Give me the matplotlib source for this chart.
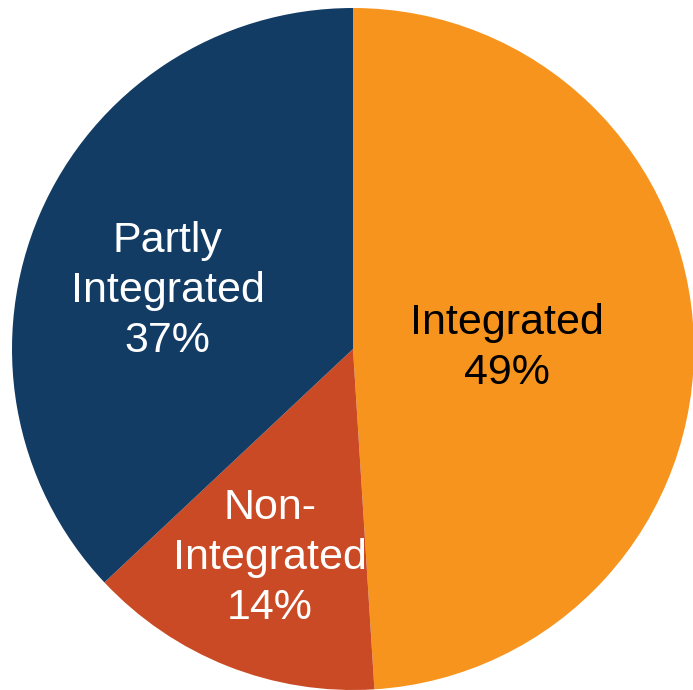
import numpy as np
import matplotlib.pyplot as plt

plt.rcParams['font.family'] = ['Liberation Sans', 'DejaVu Sans']

# data
labels = ['Integrated', 'Non-\nIntegrated', 'Partly\nIntegrated']
shares = [49, 14, 37]
colors = ['#F7941D', '#C94A24', '#133C65']
text_colors = ['black', 'white', 'white']
label_dist = [0.45, 0.66, 0.57]
label_shift = [-1.5, 0, 6]  # degrees

fig = plt.figure(figsize=(6.93, 6.90), dpi=100)
ax = fig.add_axes([0, 0, 1, 1])

wedges, _ = ax.pie(shares, colors=colors, startangle=90, counterclock=False,
                   radius=1, wedgeprops=dict(linewidth=0))

for w, lab, pct, tc, d, sh in zip(wedges, labels, shares, text_colors, label_dist, label_shift):
    ang = np.deg2rad((w.theta1 + w.theta2) / 2 + sh)
    ax.text(d * np.cos(ang), d * np.sin(ang), f'{lab}\n{pct}%',
            ha='center', va='center', fontsize=31, color=tc, linespacing=1.32)

# pixel layout: center (353, 349), radius 341
r = 341.0
ax.set_xlim(-353 / r, (693 - 353) / r)
ax.set_ylim(-(690 - 349) / r, 349 / r)
ax.set_aspect('auto')
ax.axis('off')

plt.savefig('out.png', dpi=100)
plt.close()
